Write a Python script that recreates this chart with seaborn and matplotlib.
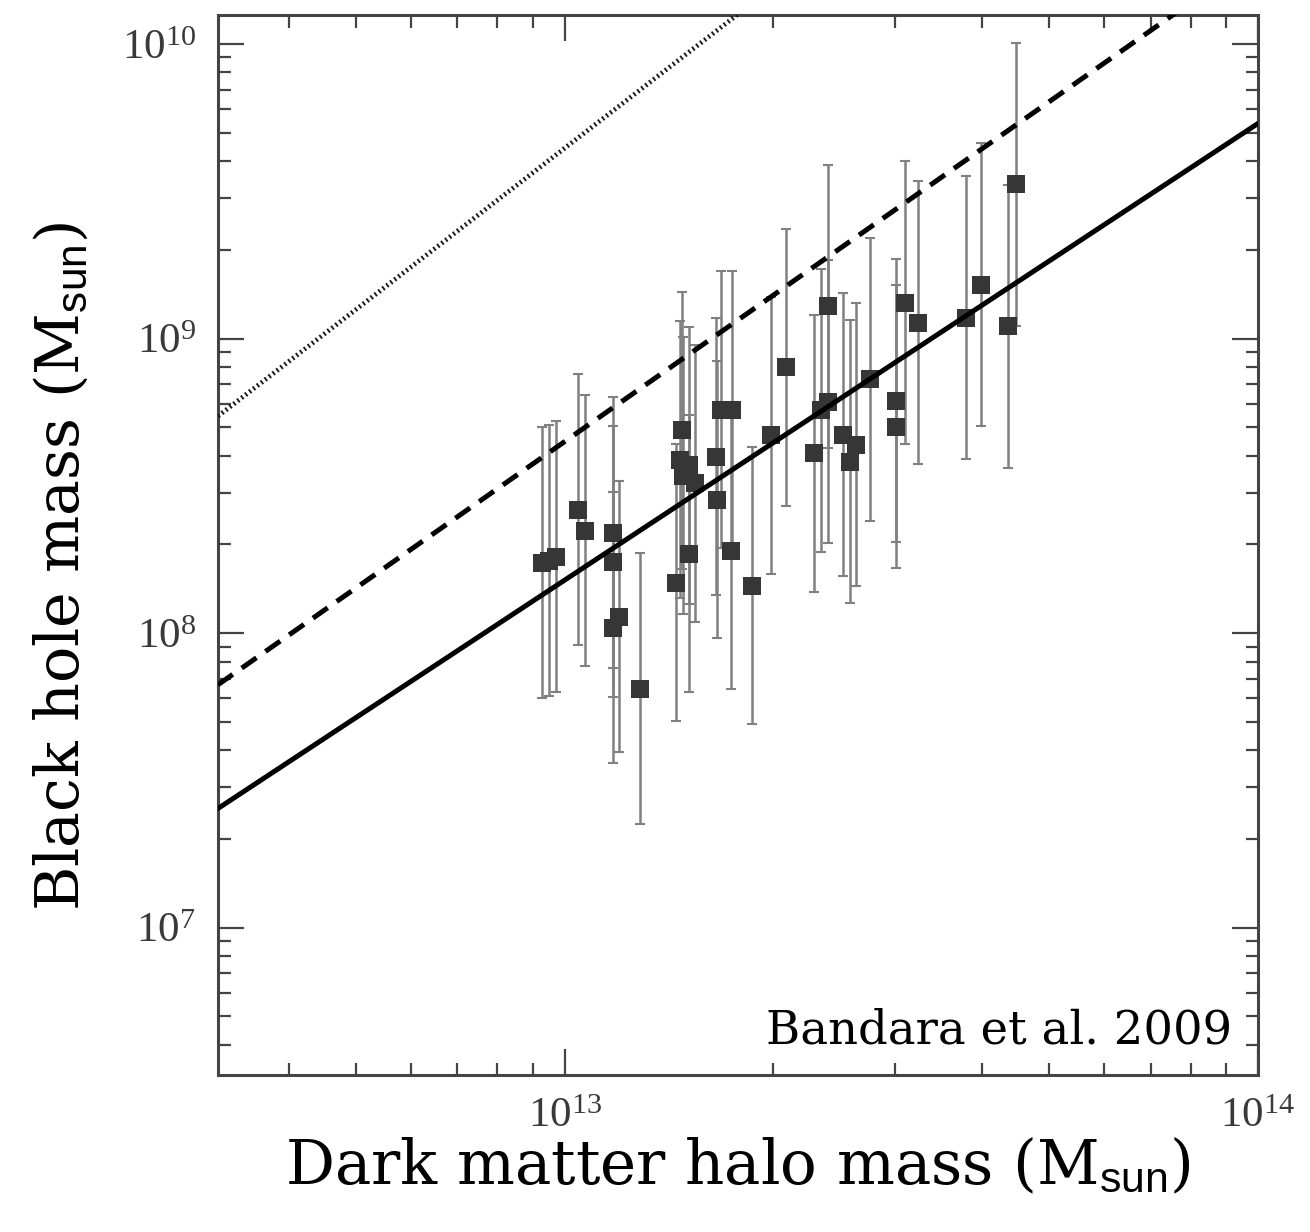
import numpy as np
import pandas as pd
import matplotlib
matplotlib.use("Agg")
import matplotlib.pyplot as plt
import matplotlib.ticker as mticker
import seaborn as sns

# ---- data (log10 of masses) ----
log_halo = [12.968, 12.978, 12.988, 13.019, 13.029, 13.069, 13.069, 13.079, 13.069, 13.108,
            13.169, 13.167, 13.170, 13.180, 13.188, 13.180, 13.160, 13.225, 13.241, 13.218,
            13.219, 13.240, 13.270, 13.297, 13.319, 13.359, 13.380, 13.369, 13.380, 13.401,
            13.411, 13.420, 13.440, 13.478, 13.478, 13.491, 13.509, 13.579, 13.600, 13.639,
            13.651]
log_bh = [8.239, 8.246, 8.260, 8.419, 8.348, 8.341, 8.243, 8.056, 8.019, 7.812,
          8.688, 8.589, 8.535, 8.569, 8.508, 8.270, 8.171, 8.759, 8.759, 8.599,
          8.453, 8.280, 8.161, 8.671, 8.902, 8.610, 9.109, 8.756, 8.786, 8.674,
          8.582, 8.640, 8.861, 8.789, 8.701, 9.122, 9.054, 9.071, 9.183, 9.041,
          9.523]
err_dex = [0.46, 0.46, 0.46, 0.46, 0.46, 0.46, 0.46, 0.46, 0.46, 0.46,
           0.47, 0.47, 0.47, 0.47, 0.47, 0.47, 0.47, 0.47, 0.47, 0.47,
           0.47, 0.47, 0.47, 0.47, 0.47, 0.47, 0.48, 0.48, 0.48, 0.48,
           0.48, 0.48, 0.48, 0.48, 0.48, 0.48, 0.48, 0.48, 0.48, 0.48,
           0.48]

# relations (end points in Msun)
line_halo = [3.162e12, 1.0e14]
fit_solid = [2.54e7, 5.37e9]       # Bandara et al. fit
rel_dashed = [6.68e7, 2.0e10]
rel_dotted = [5.45e8, 2.92e11]

x_ticks = [1e13, 1e14]
x_ticklabels = [r"$10^{13}$", r"$10^{14}$"]
y_ticks = [1e7, 1e8, 1e9, 1e10]
y_ticklabels = [r"$10^{7}$", r"$10^{8}$", r"$10^{9}$", r"$10^{10}$"]

xlabel = r"Dark matter halo mass (M$_{\mathsf{sun}}$)"
ylabel = r"Black hole mass (M$_{\mathsf{sun}}$)"
credit = "Bandara et al. 2009"

# ---- style ----
sns.set_style("ticks")
plt.rcParams['font.family'] = ['Liberation Serif', 'DejaVu Serif']
plt.rcParams['mathtext.fontset'] = 'custom'
plt.rcParams['mathtext.rm'] = 'Liberation Serif'
plt.rcParams['mathtext.it'] = 'Liberation Serif:italic'
plt.rcParams['mathtext.sf'] = 'Liberation Sans'

label_font = ['DejaVu Serif']

df = pd.DataFrame({
    "halo": np.power(10.0, log_halo),
    "bh": np.power(10.0, log_bh),
    "err": err_dex,
})
lo = df["bh"] - df["bh"] * np.power(10.0, -df["err"])
hi = df["bh"] * np.power(10.0, df["err"]) - df["bh"]

fig = plt.figure(figsize=(13.1, 12.32), dpi=100)
ax = fig.add_axes([0.1664, 0.1274, 0.7939, 0.8604])
ax.set_xscale("log")
ax.set_yscale("log")

ax.errorbar(df["halo"], df["bh"], yerr=[lo, hi], fmt="none", ecolor="#808080",
            elinewidth=1.8, capsize=3.8, capthick=1.5, zorder=2)
sns.scatterplot(data=df, x="halo", y="bh", marker="s", s=160, color="#363636",
                linewidth=0, ax=ax, zorder=3, legend=False)

sns.lineplot(x=line_halo, y=fit_solid, ax=ax, color="black", lw=3.6, zorder=4)
sns.lineplot(x=line_halo, y=rel_dashed, ax=ax, color="black", lw=3.6, zorder=4,
             linestyle=(0, (3.6, 2.2)))
sns.lineplot(x=line_halo, y=rel_dotted, ax=ax, color="#1a1a1a", lw=3.4, zorder=4,
             linestyle=(0, (0.4, 0.65)))

ax.set_xlim(3.162e12, 1e14)
ax.set_ylim(10 ** 6.5, 10 ** 10.098)

ax.xaxis.set_major_locator(mticker.FixedLocator(x_ticks))
ax.xaxis.set_major_formatter(mticker.FixedFormatter(x_ticklabels))
ax.yaxis.set_major_locator(mticker.FixedLocator(y_ticks))
ax.yaxis.set_major_formatter(mticker.FixedFormatter(y_ticklabels))
ax.xaxis.set_minor_locator(mticker.LogLocator(base=10, subs=np.arange(2, 10), numticks=20))
ax.yaxis.set_minor_locator(mticker.LogLocator(base=10, subs=np.arange(2, 10), numticks=20))
ax.xaxis.set_minor_formatter(mticker.NullFormatter())
ax.yaxis.set_minor_formatter(mticker.NullFormatter())

ax.tick_params(which="both", direction="in", top=True, right=True, color="#444444",
               width=1.6)
ax.tick_params(which="major", length=19, labelsize=31, labelcolor="#3a3a3a", pad=16)
ax.tick_params(which="minor", length=9)
for sp in ax.spines.values():
    sp.set_color("#444444")
    sp.set_linewidth(2.2)

ax.set_xlabel(xlabel, fontsize=44, color="black", family=label_font)
ax.set_ylabel(ylabel, fontsize=43.5, color="black", family=label_font)
ax.xaxis.set_label_coords(0.5, -0.058)
ax.yaxis.set_label_coords(-0.122, 0.48)

ax.text(0.975, 0.030, credit, transform=ax.transAxes, ha="right", va="baseline",
        fontsize=33.5, color="black", family=label_font)

fig.savefig("out.png", dpi=100, facecolor="white")
